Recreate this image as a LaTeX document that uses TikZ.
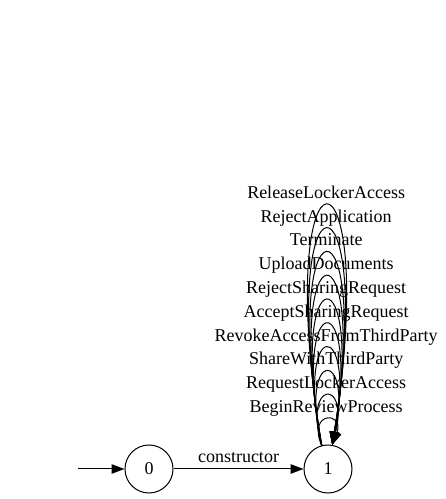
\documentclass[tikz,border=0pt]{standalone}
\usepackage{fontspec}
\setmainfont{Liberation Serif}
\usetikzlibrary{positioning,arrows.meta,calc}

\begin{document}
\begin{tikzpicture}[x=1pt, y=1pt, font=\fontsize{18}{21}\selectfont,
    statenode/.style={draw, circle, line width=1pt, minimum size=48pt, inner sep=0pt},
    edge/.style={line width=1pt, -{Triangle[length=13pt, width=9.5pt]}}]
  \useasboundingbox (0,0) rectangle (446,499);

  % States
  \node[statenode] (s0) at (149,30) {0};
  \node[statenode] (s1) at (328,30) {1};
  \coordinate (init) at (78,30);

  % Initial and constructor edges
  \draw[edge] (init) -- (s0);
  \draw[edge] (s0) -- node[midway, anchor=base, yshift=6pt, inner sep=0pt] {constructor} (s1);

  % Self loops on state 1
  \foreach \i/\lbl in {0/BeginReviewProcess, 1/RequestLockerAccess, 2/ShareWithThirdParty,
      3/RevokeAccessFromThirdParty, 4/AcceptSharingRequest, 5/RejectSharingRequest,
      6/UploadDocuments, 7/Terminate, 8/RejectApplication, 9/ReleaseLockerAccess}
    \draw[edge] (s1.105) .. controls +({-15-4.2*\i},{34.1+31.73*\i})
      and +({13+4.2*\i},{34.1+31.73*\i}) .. (s1.80)
      node[pos=0.5, anchor=base, yshift=7pt, inner sep=0pt] {\lbl};
\end{tikzpicture}
\end{document}
